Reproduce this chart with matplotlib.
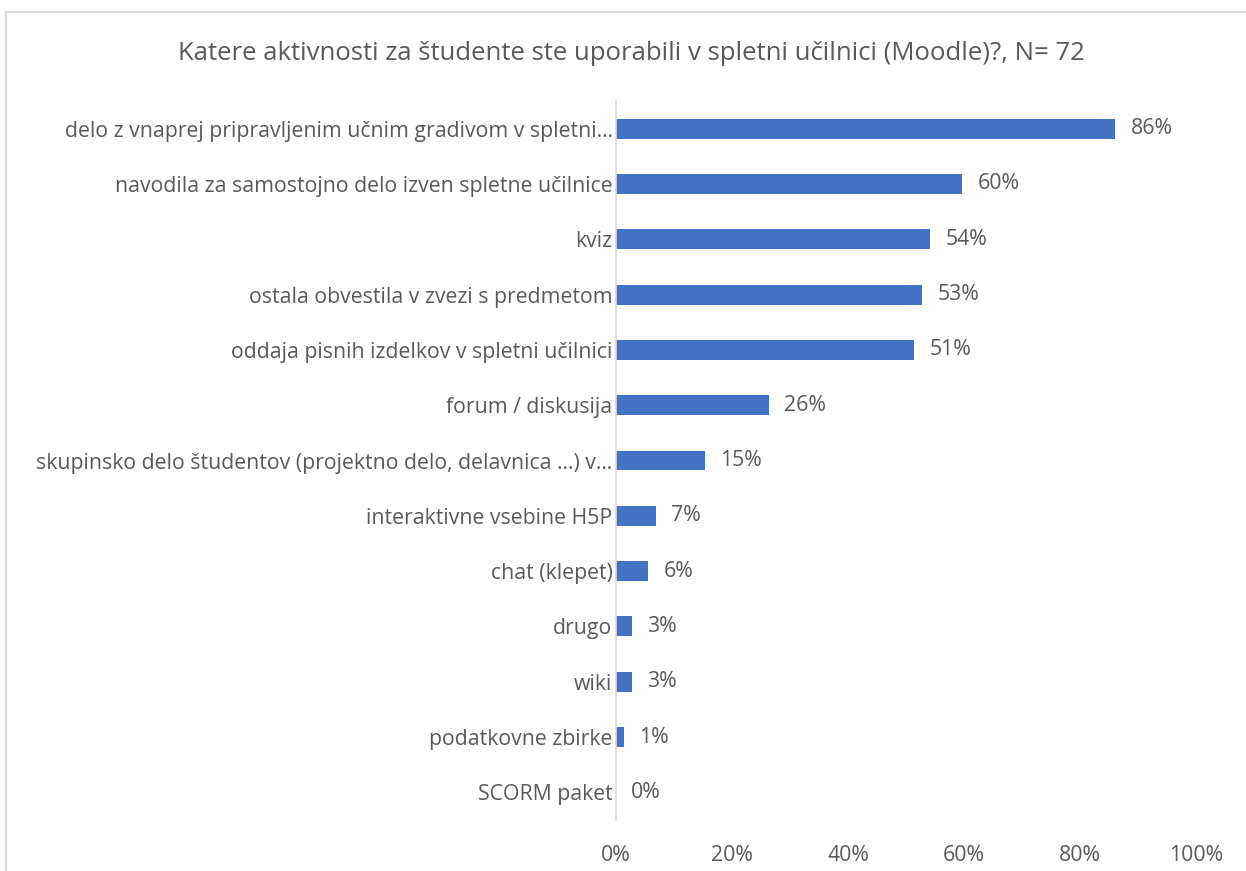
import matplotlib
matplotlib.use("Agg")
import matplotlib.pyplot as plt
from matplotlib.patches import Rectangle

categories = [
    "delo z vnaprej pripravljenim učnim gradivom v spletni…",
    "navodila za samostojno delo izven spletne učilnice",
    "kviz",
    "ostala obvestila v zvezi s predmetom",
    "oddaja pisnih izdelkov v spletni učilnici",
    "forum / diskusija",
    "skupinsko delo študentov (projektno delo, delavnica ...) v…",
    "interaktivne vsebine H5P",
    "chat (klepet)",
    "drugo",
    "wiki",
    "podatkovne zbirke",
    "SCORM paket",
]
values = [86.1, 59.7, 54.2, 52.8, 51.4, 26.4, 15.3, 6.9, 5.6, 2.8, 2.8, 1.4, 0.0]
xticks = [0, 20, 40, 60, 80, 100]
title = "Katere aktivnosti za študente ste uporabili v spletni učilnici (Moodle)?, N= 72"

plt.rcParams['font.family'] = ['Open Sans', 'DejaVu Sans']
TXT = "#595959"
FS = 15.3

W, H = 1246, 871
fig = plt.figure(figsize=(W/100, H/100), dpi=100)
fig.patches.append(Rectangle((6/W, -0.1), 1.2, (H-12)/H + 0.1, transform=fig.transFigure,
                             fill=False, edgecolor="#D9D9D9", linewidth=1.5))

ax = fig.add_axes([616/W, 51/H, 580/W, 719/H])
n = len(categories)
ypos = list(range(n))
ax.barh(ypos, values, height=0.36, color="#4472C4")
ax.set_ylim(n - 0.5, -0.5)
ax.set_xlim(0, 100)
for y, v in zip(ypos, values):
    ax.annotate(f"{round(v)}%", (v, y), xytext=(11, 0), textcoords="offset points",
                va="center", ha="left", fontsize=FS, color=TXT)

ax.set_yticks(ypos)
ax.set_yticklabels(categories, fontsize=FS, color=TXT)
ax.set_xticks(xticks)
ax.set_xticklabels([f"{t}%" for t in xticks], fontsize=FS, color=TXT)
ax.tick_params(axis='x', length=0, pad=18)
ax.tick_params(axis='y', length=0, pad=2.5)
for s in ["top", "right", "bottom"]:
    ax.spines[s].set_visible(False)
ax.spines["left"].set_color("#D9D9D9")
ax.spines["left"].set_linewidth(1.2)

fig.text(631/W, 1 - 53/H, title, ha="center", va="center", fontsize=18.5, color=TXT)

fig.savefig("out.png", dpi=100)
